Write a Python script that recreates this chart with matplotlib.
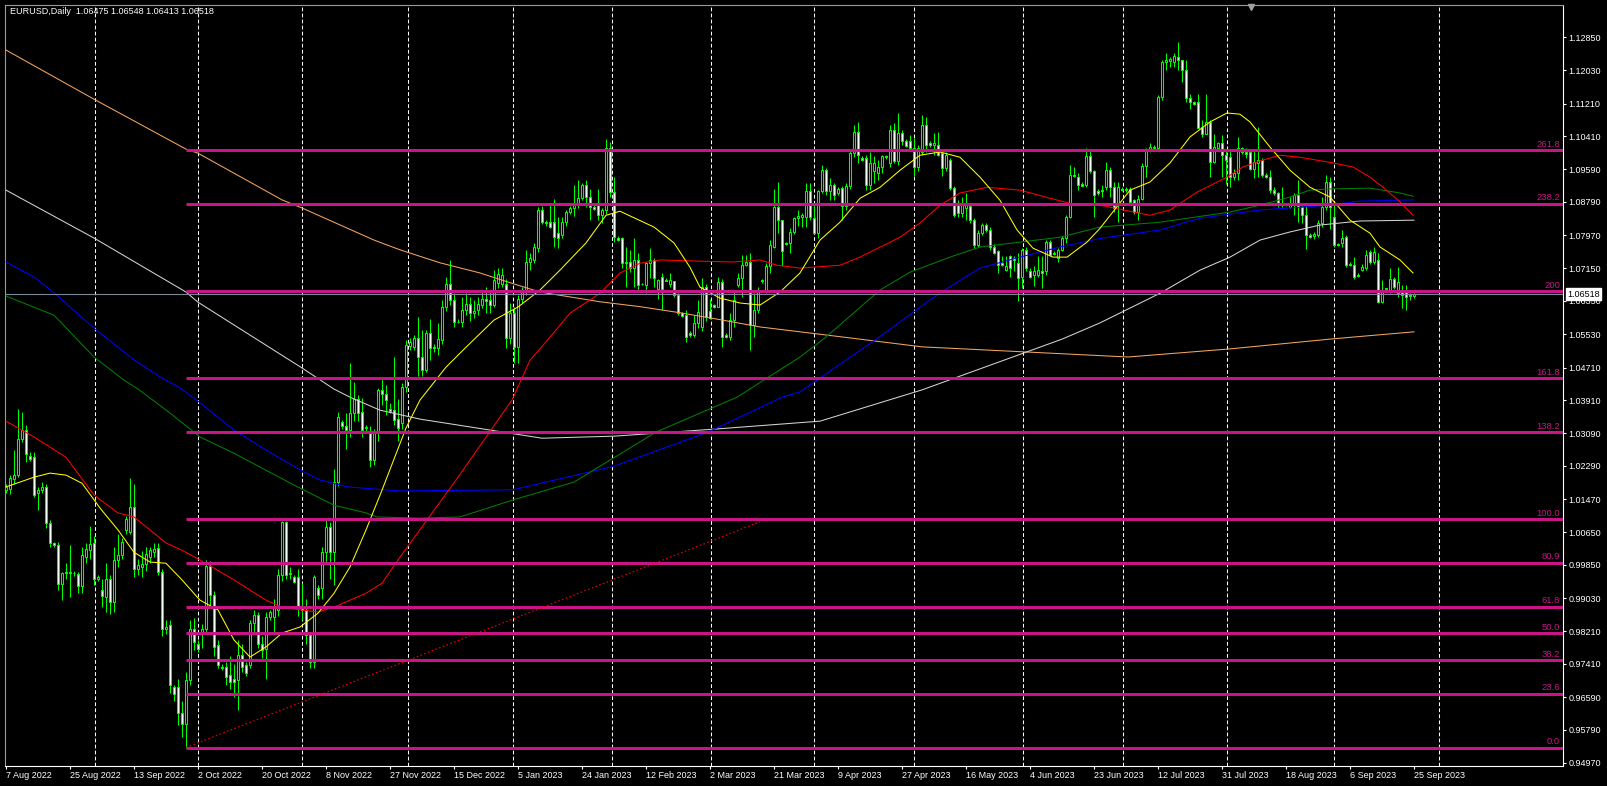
import matplotlib
matplotlib.use('Agg')
import matplotlib.pyplot as plt
import matplotlib.transforms as mtrans
import numpy as np

plt.rcParams['font.family'] = ['Liberation Sans', 'DejaVu Sans']

# EURUSD daily bars, 7 Aug 2022 .. 25 Sep 2023
opens = [
    1.0169, 1.0172, 1.0196, 1.0206, 1.0296, 1.0318, 1.0253, 1.0251, 1.0161, 1.0169,
    1.0176, 1.0087, 1.0038, 1.0035, 0.9938, 0.9964, 0.9968, 0.9964, 0.9962, 0.9934,
    1.0005, 1.0021, 1.0038, 0.9949, 0.9923, 0.9906, 0.9949, 0.9894, 0.9997, 1.0009,
    1.0071, 1.0066, 1.0128, 0.9976, 0.9980, 0.9988, 1.0005, 1.0017, 1.0027, 0.9968,
    0.9828, 0.9836, 0.9685, 0.9685, 0.9619, 0.9594, 0.9701, 0.9828, 0.9791, 0.9816,
    0.9828, 0.9982, 0.9910, 0.9787, 0.9734, 0.9734, 0.9713, 0.9703, 0.9701, 0.9763,
    0.9738, 0.9738, 0.9841, 0.9861, 0.9791, 0.9779, 0.9857, 0.9857, 0.9874, 0.9960,
    1.0091, 0.9962, 0.9956, 0.9954, 0.9882, 0.9874, 0.9812, 0.9746, 0.9927, 0.9927,
    1.0017, 1.0079, 1.0017, 1.0190, 1.0336, 1.0327, 1.0317, 1.0358, 1.0393, 1.0362,
    1.0321, 1.0309, 1.0243, 1.0309, 1.0415, 1.0406, 1.0370, 1.0366, 1.0344, 1.0334,
    1.0424, 1.0524, 1.0522, 1.0543, 1.0498, 1.0465, 1.0555, 1.0522, 1.0518, 1.0539,
    1.0621, 1.0678, 1.0637, 1.0584, 1.0582, 1.0613, 1.0627, 1.0605, 1.0613, 1.0625,
    1.0639, 1.0637, 1.0625, 1.0680, 1.0676, 1.0678, 1.0543, 1.0605, 1.0522, 1.0641,
    1.0658, 1.0732, 1.0736, 1.0765, 1.0859, 1.0830, 1.0830, 1.0830, 1.0802, 1.0797,
    1.0830, 1.0855, 1.0863, 1.0871, 1.0888, 1.0921, 1.0892, 1.0867, 1.0871, 1.0847,
    1.0859, 1.1011, 1.0904, 1.0791, 1.0789, 1.0728, 1.0732, 1.0716, 1.0736, 1.0678,
    1.0674, 1.0728, 1.0736, 1.0664, 1.0695, 1.0687, 1.0678, 1.0683, 1.0650, 1.0605,
    1.0600, 1.0555, 1.0551, 1.0580, 1.0572, 1.0670, 1.0610, 1.0625, 1.0621, 1.0682,
    1.0551, 1.0547, 1.0588, 1.0674, 1.0691, 1.0724, 1.0732, 1.0576, 1.0613, 1.0683,
    1.0662, 1.0720, 1.0769, 1.0867, 1.0834, 1.0777, 1.0777, 1.0806, 1.0839, 1.0843,
    1.0843, 1.0905, 1.0839, 1.0802, 1.0905, 1.0958, 1.0905, 1.0921, 1.0900, 1.0913,
    1.0868, 1.0917, 1.0999, 1.1052, 1.0987, 1.0987, 1.0921, 1.0954, 1.0950, 1.0966,
    1.0991, 1.0974, 1.1056, 1.0979, 1.1048, 1.1030, 1.1028, 1.1011, 1.0966, 1.1003,
    1.1069, 1.1024, 1.1020, 1.1020, 1.0999, 1.0962, 1.0983, 1.0913, 1.0872, 1.0851,
    1.0864, 1.0868, 1.0835, 1.0773, 1.0802, 1.0822, 1.0810, 1.0769, 1.0757, 1.0728,
    1.0712, 1.0745, 1.0741, 1.0728, 1.0695, 1.0761, 1.0708, 1.0700, 1.0700, 1.0708,
    1.0708, 1.0781, 1.0753, 1.0741, 1.0761, 1.0790, 1.0843, 1.0946, 1.0940, 1.0923,
    1.0921, 1.0991, 1.0954, 1.0905, 1.0908, 1.0916, 1.0957, 1.0916, 1.0875, 1.0910,
    1.0908, 1.0912, 1.0883, 1.0855, 1.0887, 1.0967, 1.1005, 1.1011, 1.1011, 1.1138,
    1.1224, 1.1226, 1.1224, 1.1236, 1.1228, 1.1203, 1.1134, 1.1125, 1.1125, 1.1064,
    1.1047, 1.1076, 1.0978, 1.1011, 1.1023, 1.0994, 1.0990, 1.0941, 1.0949, 1.1011,
    1.1002, 1.1002, 1.0961, 1.0974, 1.0982, 1.0945, 1.0941, 1.0908, 1.0900, 1.0875,
    1.0871, 1.0867, 1.0871, 1.0896, 1.0867, 1.0846, 1.0797, 1.0795, 1.0797, 1.0826,
    1.0867, 1.0928, 1.0842, 1.0776, 1.0777, 1.0793, 1.0725, 1.0723, 1.0699, 1.0711,
    1.0715, 1.0756, 1.0731, 1.0736, 1.0633, 1.0664, 1.0662, 1.0690, 1.0654, 1.0658,
    1.0658, 1.0650, 1.06475]
highs = [
    1.0185, 1.0206, 1.0268, 1.0368, 1.0362, 1.0330, 1.0263, 1.0263, 1.0177, 1.0190,
    1.0185, 1.0095, 1.0042, 1.0042, 0.9968, 0.9990, 1.0034, 0.9970, 0.9968, 1.0030,
    1.0040, 1.0080, 1.0055, 0.9960, 0.9950, 0.9990, 0.9960, 1.0030, 1.0060, 1.0050,
    1.0105, 1.0198, 1.0185, 1.0000, 1.0020, 1.0030, 1.0030, 1.0040, 1.0040, 0.9975,
    0.9850, 0.9850, 0.9690, 0.9705, 0.9650, 0.9720, 0.9850, 0.9855, 0.9800, 0.9840,
    0.9997, 0.9995, 0.9920, 0.9800, 0.9740, 0.9745, 0.9760, 0.9740, 0.9800, 0.9790,
    0.9745, 0.9850, 0.9875, 0.9870, 0.9810, 0.9870, 0.9875, 0.9900, 0.9975, 1.0093,
    1.0093, 0.9980, 0.9960, 0.9975, 0.9940, 0.9900, 0.9820, 0.9960, 0.9935, 1.0030,
    1.0096, 1.0090, 1.0220, 1.0362, 1.0342, 1.0358, 1.0481, 1.0436, 1.0403, 1.0395,
    1.0330, 1.0327, 1.0320, 1.0420, 1.0448, 1.0428, 1.0383, 1.0498, 1.0393, 1.0432,
    1.0539, 1.0543, 1.0550, 1.0596, 1.0564, 1.0564, 1.0590, 1.0530, 1.0580, 1.0637,
    1.0695, 1.0736, 1.0655, 1.0590, 1.0645, 1.0655, 1.0646, 1.0637, 1.0646, 1.0662,
    1.0670, 1.0662, 1.0711, 1.0715, 1.0716, 1.0690, 1.0630, 1.0620, 1.0650, 1.0670,
    1.0761, 1.0752, 1.0777, 1.0867, 1.0870, 1.0835, 1.0875, 1.0887, 1.0843, 1.0843,
    1.0860, 1.0868, 1.0921, 1.0933, 1.0925, 1.0933, 1.0912, 1.0872, 1.0912, 1.0865,
    1.1033, 1.1027, 1.0941, 1.0795, 1.0793, 1.0769, 1.0761, 1.0789, 1.0752, 1.0680,
    1.0732, 1.0765, 1.0740, 1.0690, 1.0703, 1.0692, 1.0703, 1.0683, 1.0655, 1.0608,
    1.0613, 1.0560, 1.0600, 1.0637, 1.0691, 1.0678, 1.0640, 1.0628, 1.0694, 1.0690,
    1.0555, 1.0605, 1.0658, 1.0703, 1.0748, 1.0748, 1.0752, 1.0654, 1.0670, 1.0690,
    1.0728, 1.0785, 1.0912, 1.0929, 1.0834, 1.0780, 1.0814, 1.0843, 1.0860, 1.0851,
    1.0925, 1.0925, 1.0876, 1.0909, 1.0970, 1.0962, 1.0937, 1.0925, 1.0915, 1.0917,
    1.0925, 1.1005, 1.1069, 1.1077, 1.0991, 1.0995, 1.1003, 1.0991, 1.0983, 1.0995,
    1.0995, 1.1069, 1.1073, 1.1098, 1.1056, 1.1035, 1.1044, 1.1036, 1.1020, 1.1093,
    1.1089, 1.1030, 1.1048, 1.1052, 1.1003, 1.1003, 1.0987, 1.0917, 1.0884, 1.0892,
    1.0900, 1.0872, 1.0839, 1.0810, 1.0827, 1.0827, 1.0818, 1.0775, 1.0760, 1.0745,
    1.0745, 1.0749, 1.0745, 1.0753, 1.0765, 1.0769, 1.0716, 1.0720, 1.0745, 1.0745,
    1.0786, 1.0786, 1.0757, 1.0765, 1.0794, 1.0847, 1.0970, 1.0966, 1.0950, 1.0927,
    1.1011, 1.1007, 1.0958, 1.0910, 1.0920, 1.0978, 1.0965, 1.0928, 1.0928, 1.0915,
    1.0916, 1.0916, 1.0887, 1.0896, 1.0974, 1.1011, 1.1023, 1.1018, 1.1142, 1.1228,
    1.1245, 1.1236, 1.1245, 1.1273, 1.1228, 1.1228, 1.1146, 1.1128, 1.1146, 1.1080,
    1.1146, 1.1080, 1.1047, 1.1027, 1.1043, 1.1006, 1.1006, 1.0961, 1.1039, 1.1015,
    1.1011, 1.1006, 1.1006, 1.1064, 1.0986, 1.0950, 1.0957, 1.0916, 1.0904, 1.0916,
    1.0877, 1.0892, 1.0900, 1.0933, 1.0871, 1.0871, 1.0802, 1.0805, 1.0834, 1.0892,
    1.0945, 1.0941, 1.0871, 1.0779, 1.0809, 1.0797, 1.0730, 1.0744, 1.0703, 1.0727,
    1.0760, 1.0760, 1.0768, 1.0752, 1.0686, 1.0668, 1.0715, 1.0695, 1.0719, 1.0674,
    1.0674, 1.0654, 1.06548]
lows = [
    1.0161, 1.0160, 1.0185, 1.0202, 1.0288, 1.0239, 1.0240, 1.0153, 1.0120, 1.0161,
    1.0075, 1.0030, 1.0030, 0.9923, 0.9898, 0.9950, 0.9906, 0.9958, 0.9915, 0.9915,
    0.9990, 1.0000, 0.9935, 0.9945, 0.9880, 0.9870, 0.9863, 0.9870, 0.9980, 1.0000,
    1.0060, 1.0060, 0.9956, 0.9960, 0.9955, 0.9970, 0.9990, 1.0005, 0.9960, 0.9810,
    0.9815, 0.9670, 0.9650, 0.9590, 0.9560, 0.9535, 0.9690, 0.9775, 0.9770, 0.9780,
    0.9815, 0.9880, 0.9760, 0.9730, 0.9725, 0.9690, 0.9680, 0.9660, 0.9627, 0.9720,
    0.9712, 0.9730, 0.9820, 0.9780, 0.9755, 0.9705, 0.9850, 0.9815, 0.9860, 0.9945,
    0.9950, 0.9950, 0.9940, 0.9860, 0.9850, 0.9790, 0.9730, 0.9730, 0.9900, 0.9900,
    0.9990, 0.9950, 0.9935, 1.0180, 1.0320, 1.0270, 1.0300, 1.0340, 1.0340, 1.0300,
    1.0315, 1.0225, 1.0230, 1.0290, 1.0379, 1.0354, 1.0360, 1.0329, 1.0290, 1.0320,
    1.0410, 1.0514, 1.0515, 1.0449, 1.0449, 1.0460, 1.0490, 1.0510, 1.0502, 1.0530,
    1.0610, 1.0625, 1.0570, 1.0580, 1.0572, 1.0600, 1.0585, 1.0592, 1.0600, 1.0618,
    1.0605, 1.0605, 1.0620, 1.0666, 1.0670, 1.0518, 1.0530, 1.0481, 1.0481, 1.0630,
    1.0650, 1.0711, 1.0728, 1.0755, 1.0825, 1.0820, 1.0815, 1.0769, 1.0765, 1.0790,
    1.0820, 1.0850, 1.0845, 1.0865, 1.0884, 1.0867, 1.0834, 1.0860, 1.0834, 1.0826,
    1.0850, 1.0890, 1.0780, 1.0782, 1.0716, 1.0670, 1.0707, 1.0670, 1.0662, 1.0674,
    1.0654, 1.0691, 1.0670, 1.0640, 1.0613, 1.0683, 1.0670, 1.0646, 1.0600, 1.0596,
    1.0535, 1.0547, 1.0547, 1.0568, 1.0560, 1.0585, 1.0590, 1.0618, 1.0621, 1.0522,
    1.0545, 1.0539, 1.0572, 1.0670, 1.0646, 1.0720, 1.0514, 1.0547, 1.0605, 1.0680,
    1.0655, 1.0703, 1.0765, 1.0802, 1.0720, 1.0772, 1.0752, 1.0800, 1.0820, 1.0818,
    1.0818, 1.0835, 1.0802, 1.0790, 1.0900, 1.0895, 1.0884, 1.0884, 1.0895, 1.0835,
    1.0860, 1.0910, 1.0990, 1.0974, 1.0980, 1.0909, 1.0909, 1.0925, 1.0933, 1.0950,
    1.0985, 1.0966, 1.0974, 1.0970, 1.1020, 1.1015, 1.1007, 1.0942, 1.0955, 1.0995,
    1.1003, 1.1015, 1.0995, 1.0991, 1.0942, 1.0954, 1.0909, 1.0843, 1.0843, 1.0843,
    1.0835, 1.0827, 1.0765, 1.0769, 1.0798, 1.0806, 1.0761, 1.0750, 1.0703, 1.0720,
    1.0708, 1.0695, 1.0708, 1.0634, 1.0667, 1.0708, 1.0691, 1.0671, 1.0695, 1.0667,
    1.0700, 1.0745, 1.0749, 1.0732, 1.0757, 1.0777, 1.0839, 1.0940, 1.0909, 1.0917,
    1.0915, 1.0950, 1.0843, 1.0895, 1.0892, 1.0908, 1.0892, 1.0855, 1.0830, 1.0905,
    1.0904, 1.0875, 1.0850, 1.0834, 1.0883, 1.0941, 1.1002, 1.1008, 1.1006, 1.1130,
    1.1203, 1.1212, 1.1212, 1.1203, 1.1175, 1.1125, 1.1109, 1.1118, 1.1060, 1.1039,
    1.1047, 1.0941, 1.0974, 1.1006, 1.0941, 1.0924, 1.0916, 1.0933, 1.0933, 1.0998,
    1.0986, 1.0957, 1.0937, 1.0941, 1.0941, 1.0939, 1.0900, 1.0896, 1.0867, 1.0867,
    1.0868, 1.0863, 1.0847, 1.0830, 1.0826, 1.0764, 1.0790, 1.0788, 1.0793, 1.0818,
    1.0859, 1.0813, 1.0768, 1.0770, 1.0768, 1.0719, 1.0720, 1.0690, 1.0693, 1.0709,
    1.0711, 1.0727, 1.0727, 1.0629, 1.0629, 1.0660, 1.0654, 1.0665, 1.0645, 1.0617,
    1.0613, 1.0637, 1.06413]
closes = [
    1.0177, 1.0198, 1.0206, 1.0296, 1.0318, 1.0258, 1.0245, 1.0157, 1.0169, 1.0176,
    1.0087, 1.0040, 1.0034, 0.9938, 0.9964, 0.9968, 0.9965, 0.9966, 0.9934, 1.0009,
    1.0023, 1.0036, 0.9949, 0.9956, 0.9908, 0.9949, 0.9894, 0.9997, 1.0009, 1.0042,
    1.0099, 1.0128, 0.9976, 0.9984, 0.9988, 1.0013, 1.0021, 1.0025, 0.9968, 0.9828,
    0.9832, 0.9689, 0.9668, 0.9619, 0.9594, 0.9701, 0.9828, 0.9796, 0.9779, 0.9828,
    0.9982, 0.9910, 0.9783, 0.9738, 0.9730, 0.9709, 0.9697, 0.9697, 0.9763, 0.9734,
    0.9718, 0.9841, 0.9861, 0.9791, 0.9775, 0.9857, 0.9869, 0.9882, 0.9960, 1.0091,
    0.9960, 0.9965, 0.9943, 0.9882, 0.9874, 0.9812, 0.9746, 0.9956, 0.9910, 1.0017,
    1.0079, 1.0017, 1.0190, 1.0350, 1.0328, 1.0317, 1.0358, 1.0393, 1.0358, 1.0317,
    1.0325, 1.0243, 1.0309, 1.0415, 1.0406, 1.0391, 1.0365, 1.0342, 1.0321, 1.0424,
    1.0526, 1.0535, 1.0543, 1.0498, 1.0465, 1.0555, 1.0520, 1.0518, 1.0541, 1.0621,
    1.0678, 1.0637, 1.0584, 1.0582, 1.0613, 1.0627, 1.0605, 1.0610, 1.0627, 1.0639,
    1.0635, 1.0625, 1.0687, 1.0702, 1.0699, 1.0543, 1.0605, 1.0522, 1.0641, 1.0662,
    1.0732, 1.0740, 1.0769, 1.0859, 1.0830, 1.0826, 1.0818, 1.0793, 1.0790, 1.0830,
    1.0855, 1.0863, 1.0871, 1.0888, 1.0921, 1.0892, 1.0867, 1.0862, 1.0847, 1.0859,
    1.1011, 1.0904, 1.0793, 1.0785, 1.0728, 1.0732, 1.0716, 1.0736, 1.0674, 1.0676,
    1.0728, 1.0736, 1.0691, 1.0687, 1.0664, 1.0684, 1.0687, 1.0650, 1.0605, 1.0599,
    1.0547, 1.0551, 1.0580, 1.0609, 1.0670, 1.0596, 1.0592, 1.0621, 1.0682, 1.0547,
    1.0547, 1.0588, 1.0637, 1.0691, 1.0724, 1.0732, 1.0576, 1.0613, 1.0662, 1.0687,
    1.0720, 1.0773, 1.0867, 1.0834, 1.0757, 1.0775, 1.0806, 1.0839, 1.0845, 1.0846,
    1.0905, 1.0843, 1.0802, 1.0905, 1.0958, 1.0905, 1.0921, 1.0896, 1.0912, 1.0868,
    1.0917, 1.0999, 1.1052, 1.0995, 1.0983, 1.0921, 1.0974, 1.0974, 1.0966, 1.0991,
    1.0989, 1.1056, 1.0979, 1.1048, 1.1028, 1.1016, 1.1011, 1.0966, 1.1011, 1.1069,
    1.1020, 1.1020, 1.1024, 1.0995, 1.0962, 1.0995, 1.0913, 1.0847, 1.0851, 1.0872,
    1.0876, 1.0835, 1.0773, 1.0802, 1.0822, 1.0810, 1.0769, 1.0753, 1.0724, 1.0724,
    1.0720, 1.0716, 1.0736, 1.0691, 1.0761, 1.0716, 1.0695, 1.0710, 1.0712, 1.0704,
    1.0781, 1.0749, 1.0750, 1.0761, 1.0790, 1.0843, 1.0946, 1.0943, 1.0921, 1.0919,
    1.0991, 1.0954, 1.0896, 1.0900, 1.0906, 1.0957, 1.0916, 1.0863, 1.0916, 1.0908,
    1.0912, 1.0879, 1.0855, 1.0887, 1.0967, 1.1005, 1.1015, 1.1015, 1.1138, 1.1224,
    1.1228, 1.1230, 1.1238, 1.1228, 1.1203, 1.1134, 1.1125, 1.1120, 1.1060, 1.1047,
    1.1076, 1.0978, 1.1015, 1.1023, 1.0994, 1.0982, 1.0941, 1.0949, 1.1011, 1.1003,
    1.0998, 1.0961, 1.0978, 1.0982, 1.0945, 1.0941, 1.0908, 1.0900, 1.0871, 1.0871,
    1.0873, 1.0875, 1.0896, 1.0867, 1.0846, 1.0797, 1.0793, 1.0800, 1.0826, 1.0867,
    1.0928, 1.0867, 1.0773, 1.0773, 1.0789, 1.0723, 1.0723, 1.0695, 1.0697, 1.0719,
    1.0748, 1.0731, 1.0756, 1.0633, 1.0662, 1.0666, 1.0690, 1.0670, 1.0682, 1.0650,
    1.0646, 1.0648, 1.06518]

date_labels = ['7 Aug 2022', '25 Aug 2022', '13 Sep 2022', '2 Oct 2022', '20 Oct 2022',
               '8 Nov 2022', '27 Nov 2022', '15 Dec 2022', '5 Jan 2023', '24 Jan 2023',
               '12 Feb 2023', '2 Mar 2023', '21 Mar 2023', '9 Apr 2023', '27 Apr 2023',
               '16 May 2023', '4 Jun 2023', '23 Jun 2023', '12 Jul 2023', '31 Jul 2023',
               '18 Aug 2023', '6 Sep 2023', '25 Sep 2023']

# moving averages, sampled along the chart (bar index, price)
yellow_idx = [0, 7, 11, 15, 19, 23.5, 28, 32, 36, 40, 44, 48.5, 53, 57, 61, 65, 69, 73.5, 78, 82,
              86, 90, 94, 100, 103.5, 110, 115, 122, 128, 133.5, 138.5, 145, 150, 153.5, 162, 167,
              171, 173.5, 178.5, 183.5, 188.5, 193.5, 198.5, 203.5, 208.5, 213.5, 218.5, 223.5,
              228.5, 233.5, 238.5, 243.5, 248.5, 252.75, 256.75, 261.75, 265.25, 270.25, 273.5,
              281, 286, 291, 296, 301, 305.25, 308.5, 311, 316, 321, 326, 331, 336, 341, 343.5,
              348.5, 351.75]
yellow_val = [1.0177, 1.0201, 1.0211, 1.0206, 1.0186, 1.0125, 1.0071, 1.0016, 0.9992, 0.9989,
              0.9948, 0.9898, 0.9874, 0.9800, 0.9758, 0.9783, 0.9817, 0.9832, 0.9866, 0.9915,
              0.9980, 1.0071, 1.0169, 1.0322, 1.0391, 1.0472, 1.0521, 1.0588, 1.0620, 1.0662,
              1.0711, 1.0778, 1.0846, 1.0856, 1.0817, 1.0778, 1.0718, 1.0669, 1.0642, 1.0630,
              1.0625, 1.0657, 1.0704, 1.0785, 1.0829, 1.0888, 1.0915, 1.0957, 1.0994, 1.1002,
              1.0989, 1.0940, 1.0883, 1.0810, 1.0765, 1.0743, 1.0743, 1.0780, 1.0814, 1.0908,
              1.0928, 1.0975, 1.1039, 1.1076, 1.1098, 1.1095, 1.1076, 1.1014, 1.0957, 1.0915,
              1.0891, 1.0834, 1.0802, 1.0768, 1.0736, 1.0704]
red_idx = [0, 7, 15, 22, 28, 32, 36, 40, 44, 48.5, 57, 65, 69, 73.5, 78, 82, 86, 90, 94, 98.5,
           112.5, 126.5, 131, 136, 141, 148.5, 153.5, 158.5, 163.5, 173.5, 181.75, 188.5, 192.75,
           198.5, 208.5, 213.5, 223.5, 228.5, 233.5, 238.5, 245.25, 253.5, 261, 267.75, 273.5,
           286, 291, 297.75, 305.25, 309.25, 313.5, 318.5, 323.5, 331.75, 336.75, 341, 344.25,
           348.5, 351.75]
red_val = [1.0339, 1.0300, 1.0250, 1.0157, 1.0113, 1.0103, 1.0071, 1.0039, 1.0021, 0.9997,
           0.9948, 0.9898, 0.9881, 0.9874, 0.9869, 0.9881, 0.9898, 0.9915, 0.9940, 1.0004,
           1.0194, 1.0391, 1.0489, 1.0546, 1.0605, 1.0654, 1.0704, 1.0728, 1.0736, 1.0733,
           1.0731, 1.0736, 1.0723, 1.0716, 1.0723, 1.0743, 1.0792, 1.0827, 1.0871, 1.0901,
           1.0915, 1.0908, 1.0888, 1.0871, 1.0871, 1.0846, 1.0859, 1.0903, 1.0940, 1.0965,
           1.0980, 1.0994, 1.0989, 1.0975, 1.0965, 1.0940, 1.0915, 1.0879, 1.0846]
green_idx = [0, 12, 22, 29.5, 33, 41, 48.5, 57, 65, 73.5, 82, 90, 92.75, 103.5, 113.5, 126.75,
             142, 162.5, 182.75, 198.5, 204.75, 218.5, 226, 236, 243.5, 253.5, 263.5, 273.5,
             288.5, 306, 313.5, 321, 326, 331, 341, 348.5, 351.75]
green_val = [1.0647, 1.0600, 1.0497, 1.0440, 1.0418, 1.0359, 1.0300, 1.0260, 1.0218, 1.0174,
             1.0132, 1.0113, 1.0103, 1.0100, 1.0103, 1.0145, 1.0189, 1.0312, 1.0398, 1.0497,
             1.0544, 1.0662, 1.0706, 1.0743, 1.0768, 1.0780, 1.0792, 1.0817, 1.0829, 1.0854,
             1.0871, 1.0891, 1.0908, 1.0911, 1.0913, 1.0901, 1.0893]
blue_idx = [0, 7, 12, 22, 32, 38.5, 43.5, 48.5, 57, 65, 73.5, 78.5, 85.5, 98.5, 126.75, 152,
            175.5, 194, 198.5, 218, 233.5, 243.5, 253.5, 263.5, 273.5, 288.5, 298.5, 313.5,
            323.5, 331, 338.5, 352]
blue_val = [1.0731, 1.0694, 1.0655, 1.0568, 1.0490, 1.0448, 1.0421, 1.0384, 1.0317, 1.0268,
            1.0219, 1.0194, 1.0177, 1.0167, 1.0170, 1.0228, 1.0312, 1.0398, 1.0411, 1.0544,
            1.0655, 1.0716, 1.0743, 1.0768, 1.0789, 1.0810, 1.0839, 1.0859, 1.0866, 1.0871,
            1.0881, 1.0884]
silver_idx = [0, 22, 45, 48, 74, 82, 86, 93.5, 103.5, 134, 152, 178, 203.5, 229, 264, 273.5,
              288.5, 298.5, 306, 313.5, 321, 328.5, 338.5, 352]
silver_val = [1.0908, 1.0790, 1.0657, 1.0632, 1.0470, 1.0418, 1.0398, 1.0366, 1.0344, 1.0297,
              1.0302, 1.0320, 1.0339, 1.0416, 1.0541, 1.0581, 1.0654, 1.0711, 1.0743, 1.0785,
              1.0805, 1.0822, 1.0832, 1.0834]
orange_idx = [0, 22, 45, 48, 69, 74, 92, 98.5, 108.5, 118.5, 126, 133.5, 141, 148.5, 158.5,
              168.5, 178.5, 188.5, 198.5, 211, 229, 280.5, 306, 332, 352]
orange_val = [1.1253, 1.1132, 1.1009, 1.0999, 1.0884, 1.0864, 1.0785, 1.0761, 1.0729, 1.0704,
              1.0680, 1.0657, 1.0645, 1.0633, 1.0621, 1.0606, 1.0589, 1.0571, 1.0559, 1.0544,
              1.0522, 1.0497, 1.0517, 1.0542, 1.0559]

fib_levels = [0.0, 23.6, 38.2, 50.0, 61.8, 80.9, 100.0, 138.2, 161.8, 200.0, 238.2, 261.8]
fib_texts = ['0.0', '23.6', '38.2', '50.0', '61.8', '80.9', '100.0', '138.2', '161.8', '200',
             '238.2', '261.8']
fib_low, fib_high, fib_bar = 0.9535, 1.0097, 45
trend_bars = [45, 188.5]
trend_prices = [0.9535, 1.0091]
last_price = 1.06518
title = 'EURUSD,Daily  1.06475 1.06548 1.06413 1.06518'

# price scale labels as printed on the right axis
price_ticks = [0.94970, 0.95790, 0.96590, 0.97410, 0.98210, 0.99030, 0.99850, 1.00650,
               1.01470, 1.02290, 1.03090, 1.03910, 1.04710, 1.05530, 1.06350, 1.07150,
               1.07970, 1.08790, 1.09590, 1.10410, 1.11210, 1.12030, 1.12850]

# month separators (bar index)
month_lines = [22.25, 48.1, 74.1, 100.5, 126.75, 151.5, 176.25, 202, 227, 254.25, 279.25,
               305.25, 332, 358.25]

n = min(len(opens), len(highs), len(lows), len(closes))
o = np.array(opens[:n]); h = np.array(highs[:n]); l = np.array(lows[:n]); c = np.array(closes[:n])
x = np.arange(n)

W, H = 1608, 786
fig = plt.figure(figsize=(W / 100, H / 100), dpi=100, facecolor='black')
ax = fig.add_axes([5 / W, 20 / H, 1558 / W, 761 / H], facecolor='black')
ax.set_xlim(-0.25, 389.25)
ax.set_ylim(0.94896, 1.13640)

# month grid
ax.vlines(month_lines, 0.94896, 1.13640, colors='white', linestyles=(0, (3.6, 2.2)),
          linewidth=0.75, zorder=1)

# candles: lime outline, black body up, white body down
lime = '#00FF00'
ax.vlines(x, l, h, colors=lime, linewidth=0.75, zorder=2)
up = c >= o
bottom = np.minimum(o, c)
height = np.maximum(np.abs(c - o), 0.00003)
ax.bar(x[up], height[up], bottom=bottom[up], width=0.55, color='black', edgecolor=lime,
       linewidth=0.75, zorder=3)
ax.bar(x[~up], height[~up], bottom=bottom[~up], width=0.55, color='white', edgecolor=lime,
       linewidth=0.75, zorder=3)

# moving averages
for idx, val, col in [(orange_idx, orange_val, '#F4A460'), (silver_idx, silver_val, '#D3D3D3'),
                      (blue_idx, blue_val, '#0000FF'), (green_idx, green_val, '#008000'),
                      (red_idx, red_val, '#FF0000'), (yellow_idx, yellow_val, '#FFFF00')]:
    ax.plot(idx, val, color=col, linewidth=0.75, zorder=4)

# fibonacci expansion levels
rng = fib_high - fib_low
fib_prices = [fib_low + lv / 100.0 * rng for lv in fib_levels]
ax.hlines(fib_prices, fib_bar, 389.25, colors='#C71585', linewidth=2.2, zorder=5)
for p, t in zip(fib_prices, fib_texts):
    ax.annotate(t, xy=(1.0, p), xycoords=('axes fraction', 'data'), xytext=(-2, 1.2),
                textcoords='offset points', ha='right', va='bottom', color='#C71585',
                fontsize=6.8, zorder=6)

# trend line and current price line
ax.plot(trend_bars, trend_prices, color='#FF0000', linewidth=0.8,
        linestyle=(0, (1.4, 2.2)), zorder=5)
ax.axhline(last_price, color='#778899', linewidth=0.8, zorder=5)

# axes styling
for side in ['top', 'left']:
    ax.spines[side].set_color('#9A9A9A')
for side in ['right', 'bottom']:
    ax.spines[side].set_color('white')
for s in ax.spines.values():
    s.set_linewidth(0.8)

ax.yaxis.tick_right()
ax.set_yticks(price_ticks)
ax.set_yticklabels(['%.5f' % v for v in price_ticks])
ax.tick_params(axis='y', colors='white', labelsize=6.5, length=2.2, width=0.8, pad=1.5)
ax.set_xticks(np.arange(0, 16 * len(date_labels), 16))
ax.set_xticklabels(date_labels, ha='left')
ax.tick_params(axis='x', colors='white', labelsize=6.5, length=2.5, width=0.8, pad=1)

trans = mtrans.blended_transform_factory(ax.transAxes, ax.transData)
ax.text(1.0025, last_price, '1.06518', transform=trans, ha='left', va='center', fontsize=6.5,
        color='black', zorder=10, clip_on=False,
        bbox=dict(boxstyle='square,pad=0.15', fc='white', ec='white'))

# chart shift marker
ax.plot([311.25], [0.997], marker='v', color='#A0A0A0', markersize=5,
        transform=mtrans.blended_transform_factory(ax.transData, ax.transAxes), clip_on=False,
        zorder=10)

fig.text(10 / W, 1 - 12 / H, title, color='white', fontsize=6.5, va='center', ha='left')

fig.savefig('out.png', dpi=100, facecolor='black')
